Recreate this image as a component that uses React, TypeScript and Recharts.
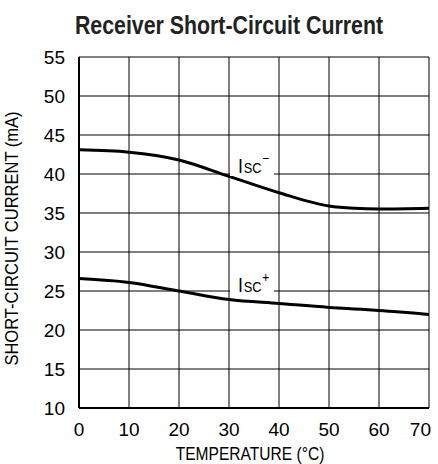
import {
  CartesianGrid,
  Line,
  LineChart,
  ReferenceDot,
  XAxis,
  YAxis,
  Label,
} from "recharts";

const temps = [0, 10, 20, 30, 40, 50, 55, 60, 70];
const iscMinus = [43.1, 42.8, 41.8, 39.7, 37.6, 35.9, 35.6, 35.5, 35.6];
const iscPlus = [26.6, 26.1, 25.0, 23.9, 23.4, 22.9, 22.7, 22.5, 22.0];
const xTicks = [0, 10, 20, 30, 40, 50, 60, 70];
const yTicks = [10, 15, 20, 25, 30, 35, 40, 45, 50, 55];

const data = temps.map((t, i) => ({ t, minus: iscMinus[i], plus: iscPlus[i] }));

const FONT = '"Liberation Sans", Arial, sans-serif';

function IscLabel({ viewBox, sign, shift }: any) {
  const cx = viewBox.x;
  const cy = viewBox.y + shift;
  return (
    <g>
      <rect x={cx - 24} y={cy - 19} width={44} height={22} fill="#fff" />
      <g transform={`translate(${cx - 16},${cy}) scale(0.85,1)`}>
        <text x={0} y={0} fontFamily={FONT} fill="#000">
          <tspan fontSize={21}>I</tspan>
          <tspan fontSize={15} dx={1}>SC</tspan>
          <tspan fontSize={14} dx={1} dy={-10}>
            {sign}
          </tspan>
        </text>
      </g>
    </g>
  );
}

function XTitle({ viewBox }: any) {
  const cx = viewBox.x + viewBox.width / 2;
  return (
    <g transform={`translate(${cx - 4},${viewBox.y + 52}) scale(0.82,1)`}>
      <text textAnchor="middle" fontFamily={FONT} fontSize={19} fill="#000">
        TEMPERATURE (°C)
      </text>
    </g>
  );
}

function YTitle({ viewBox }: any) {
  const cy = viewBox.y + viewBox.height / 2 + 6;
  return (
    <g transform={`translate(18,${cy}) rotate(-90) scale(0.87,1)`}>
      <text textAnchor="middle" fontFamily={FONT} fontSize={19} fill="#000">
        SHORT-CIRCUIT CURRENT (mA)
      </text>
    </g>
  );
}

function XTick({ x, y, payload, index }: any) {
  const last = index === xTicks.length - 1;
  return (
    <text
      x={last ? x + 2 : x}
      y={y}
      dy="0.71em"
      textAnchor={last ? "end" : "middle"}
      fontFamily={FONT}
      fontSize={19}
      fill="#000"
    >
      {payload.value}
    </text>
  );
}

export default function App() {
  return (
    <div style={{ position: "absolute", left: 0, top: 0, width: 438, height: 464, background: "#fff" }}>
      <div
        style={{
          position: "absolute",
          left: 0,
          top: 11,
          width: 458,
          textAlign: "center",
          fontFamily: FONT,
          fontWeight: "bold",
          fontSize: 25,
          color: "#222",
          transform: "scaleX(0.853)",
          transformOrigin: "229px 0",
          whiteSpace: "nowrap",
        }}
      >
        Receiver Short-Circuit Current
      </div>
      <LineChart
        width={438}
        height={464}
        data={data}
        margin={{ top: 57, right: 9, bottom: 26, left: 0 }}
      >
        <CartesianGrid stroke="#000" strokeWidth={1} />
        <XAxis
          dataKey="t"
          type="number"
          domain={[0, 70]}
          ticks={xTicks}
          tickLine={false}
          axisLine={{ stroke: "#000", strokeWidth: 2 }}
          height={30}
          tickMargin={9}
          tick={(p: any) => <XTick {...p} />}
          interval={0}
        >
          <Label content={(p: any) => <XTitle {...p} />} />
        </XAxis>
        <YAxis
          type="number"
          domain={[10, 55]}
          ticks={yTicks}
          tickLine={false}
          axisLine={{ stroke: "#000", strokeWidth: 2 }}
          width={79}
          tickMargin={8}
          tick={{ fill: "#000", fontSize: 19, fontFamily: FONT }}
          interval={0}
        >
          <Label content={(p: any) => <YTitle {...p} />} />
        </YAxis>
        <Line
          dataKey="minus"
          type="monotone"
          stroke="#000"
          strokeWidth={3}
          dot={false}
          isAnimationActive={false}
        />
        <Line
          dataKey="plus"
          type="monotone"
          stroke="#000"
          strokeWidth={3}
          dot={false}
          isAnimationActive={false}
        />
        <ReferenceDot
          x={35}
          y={40}
          r={0}
          fill="none"
          stroke="none"
          label={(p: any) => <IscLabel {...p} sign="−" shift={-1} />}
        />
        <ReferenceDot
          x={35}
          y={25}
          r={0}
          fill="none"
          stroke="none"
          label={(p: any) => <IscLabel {...p} sign="+" shift={1} />}
        />
      </LineChart>
    </div>
  );
}
